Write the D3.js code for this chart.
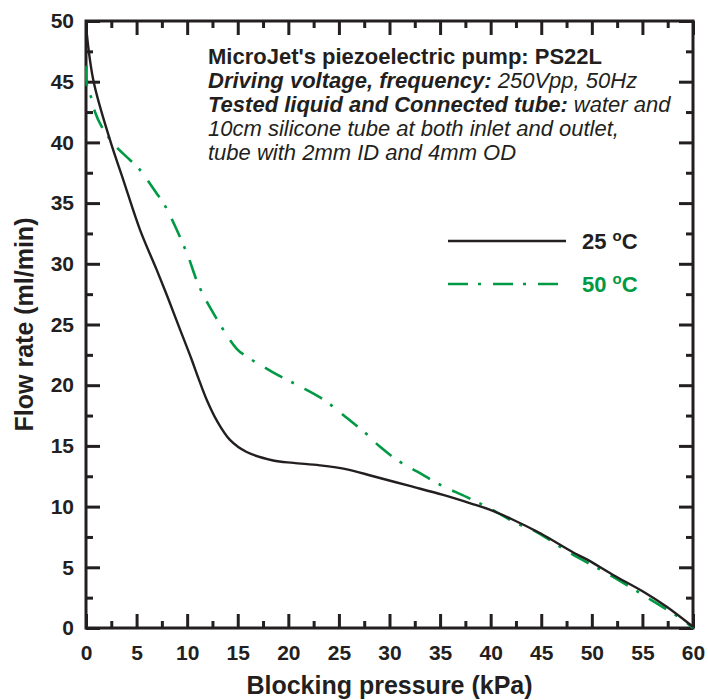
<!DOCTYPE html>
<html>
<head>
<meta charset="utf-8">
<script src="https://cdn.jsdelivr.net/npm/d3@7"></script>
<style>
  body { margin: 0; background: #fff; }
  text { font-family: "Liberation Sans", Arial, sans-serif; fill: #231f20; }
</style>
</head>
<body>
<div id="chart"></div>
<script>
var width = 708,
    height = 700;

// data: blocking pressure (kPa) vs flow rate (ml/min)
var p25 = [0, 0.73, 2.37, 3.69, 5.34, 6.99, 8.14, 9.29, 10.45, 11.1, 11.93, 12.92, 14.23, 15.88, 18.5, 20.5, 23.1, 25.8, 28.4, 32.0, 35.3, 38.3, 39.9, 42.0, 44.9, 48.2, 49.5, 52.1, 55.1, 57.4, 60];
var q25 = [49.6, 45.1, 40.2, 36.9, 32.8, 29.5, 27.1, 24.6, 22.1, 20.6, 18.8, 17.1, 15.5, 14.5, 13.8, 13.6, 13.4, 13.07, 12.5, 11.7, 10.96, 10.19, 9.75, 9.0, 7.8, 6.2, 5.65, 4.37, 2.99, 1.75, 0.1];

var p50 = [0.05, 0.1, 0.56, 0.89, 1.55, 2.7, 4.35, 5.17, 6.99, 7.8, 8.97, 10.1, 11.1, 12.4, 14.9, 15.9, 18.4, 19.5, 21.15, 23.5, 25.8, 27.7, 29.1, 31.0, 32.7, 35.0, 37.6, 39.9, 42.6, 44.2, 47.8, 51.5, 55.4, 59.0, 60];
var q50 = [46.3, 44.6, 43.6, 42.5, 41.3, 39.9, 38.55, 37.9, 35.8, 34.8, 32.8, 30.6, 28.3, 26.2, 23.0, 22.35, 21.1, 20.6, 19.9, 18.8, 17.3, 16.0, 14.9, 13.7, 12.9, 11.8, 10.8, 9.86, 8.6, 8.07, 6.2, 4.5, 2.55, 0.66, 0];

var majorX = d3.range(0, 61, 5),
    minorX = d3.range(2.5, 60, 5),
    majorY = d3.range(0, 51, 5),
    minorY = d3.range(2.5, 50, 5);

var green = "#009944";

var margin = {left: 86, top: 21, right: 15, bottom: 72};
var w = width - margin.left - margin.right,
    h = height - margin.top - margin.bottom;

var svg = d3.select('#chart').append('svg')
    .attr('width', width)
    .attr('height', height);

var g = svg.append('g')
    .attr("transform", "translate(" + margin.left + "," + margin.top + ")");

var x = d3.scaleLinear().domain([0, 60]).range([0, w]);
var y = d3.scaleLinear().domain([0, 50]).range([h, 0]);

// axes, ticks point inwards on all four sides
function styleAxis(sel) {
    sel.select(".domain").remove();
    sel.selectAll(".tick line").attr("stroke", "#231f20").attr("stroke-width", 3);
    sel.selectAll(".tick text")
        .attr("font-size", 21)
        .attr("font-weight", "bold")
        .attr("font-family", "Liberation Sans, Arial, sans-serif")
        .attr("fill", "#231f20");
}

g.append("g").attr("transform", "translate(0," + h + ")")
    .call(d3.axisBottom(x).tickValues(majorX).tickSize(-14).tickPadding(17))
    .call(styleAxis);
g.append("g").attr("transform", "translate(0," + h + ")")
    .call(d3.axisBottom(x).tickValues(minorX).tickSize(-7).tickFormat(""))
    .call(styleAxis);
g.append("g")
    .call(d3.axisTop(x).tickValues(majorX).tickSize(-14).tickFormat(""))
    .call(styleAxis);
g.append("g")
    .call(d3.axisTop(x).tickValues(minorX).tickSize(-7).tickFormat(""))
    .call(styleAxis);
g.append("g")
    .call(d3.axisLeft(y).tickValues(majorY).tickSize(-14).tickPadding(12))
    .call(styleAxis);
g.append("g")
    .call(d3.axisLeft(y).tickValues(minorY).tickSize(-7).tickFormat(""))
    .call(styleAxis);
g.append("g").attr("transform", "translate(" + w + ",0)")
    .call(d3.axisRight(y).tickValues(majorY).tickSize(-14).tickFormat(""))
    .call(styleAxis);
g.append("g").attr("transform", "translate(" + w + ",0)")
    .call(d3.axisRight(y).tickValues(minorY).tickSize(-7).tickFormat(""))
    .call(styleAxis);

// frame
g.append("rect")
    .attr("width", w).attr("height", h)
    .attr("fill", "none")
    .attr("stroke", "#231f20")
    .attr("stroke-width", 3);

// curves (drawn over the frame, as in the original)
g.append("clipPath").attr("id", "clip")
  .append("rect").attr("x", -1).attr("y", -1).attr("width", w + 2).attr("height", h + 2);

var line = d3.line()
    .x(d => x(d[0]))
    .y(d => y(d[1]))
    .curve(d3.curveCatmullRom.alpha(0.5));

g.append("path")
    .datum(d3.zip(p50, q50))
    .attr("clip-path", "url(#clip)")
    .attr("fill", "none")
    .attr("stroke", green)
    .attr("stroke-width", 2.6)
    .attr("stroke-dasharray", "20,10,3,12")
    .attr("d", line);

g.append("path")
    .datum(d3.zip(p25, q25))
    .attr("clip-path", "url(#clip)")
    .attr("fill", "none")
    .attr("stroke", "#231f20")
    .attr("stroke-width", 2.4)
    .attr("d", line);

// axis titles
svg.append("text")
    .attr("x", margin.left + w / 2)
    .attr("y", 694)
    .attr("text-anchor", "middle")
    .attr("font-size", 25)
    .attr("font-weight", "bold")
    .text("Blocking pressure (kPa)");

svg.append("text")
    .attr("transform", "translate(33," + (margin.top + h / 2) + ") rotate(-90)")
    .attr("text-anchor", "middle")
    .attr("font-size", 25)
    .attr("font-weight", "bold")
    .text("Flow rate (ml/min)");

// annotation
var note = svg.append("text").attr("x", 208).attr("font-size", 22);
var noteLines = [
    [["MicroJet's piezoelectric pump: PS22L", "bold", "normal"]],
    [["Driving voltage, frequency:", "bold", "italic"], [" 250Vpp, 50Hz", "normal", "italic"]],
    [["Tested liquid and Connected tube:", "bold", "italic"], [" water and", "normal", "italic"]],
    [["10cm silicone tube at both inlet and outlet,", "normal", "italic"]],
    [["tube with 2mm ID and 4mm OD", "normal", "italic"]]
];
noteLines.forEach(function(parts, i) {
    parts.forEach(function(p, j) {
        var t = note.append("tspan")
            .attr("font-weight", p[1])
            .attr("font-style", p[2])
            .text(p[0]);
        if (j == 0) t.attr("x", 208).attr("y", 64 + i * 24);
    });
});

// legend
var legend = svg.append("g");
var items = [["25", "#231f20", null], ["50", green, "20,10,3,12"]];
items.forEach(function(d, i) {
    var ly = 241 + i * 43;
    legend.append("line")
        .attr("x1", 448).attr("x2", 566)
        .attr("y1", ly).attr("y2", ly)
        .attr("stroke", d[1])
        .attr("stroke-width", 2.6)
        .attr("stroke-dasharray", d[2]);
    var t = legend.append("text")
        .attr("x", 582).attr("y", ly + 8)
        .attr("font-size", 22)
        .attr("font-weight", "bold")
        .style("fill", d[1]);
    t.append("tspan").text(d[0] + " ");
    t.append("tspan").attr("font-size", 15).attr("dy", -8).text("o");
    t.append("tspan").attr("dy", 8).text("C");
});
</script>
</body>
</html>
